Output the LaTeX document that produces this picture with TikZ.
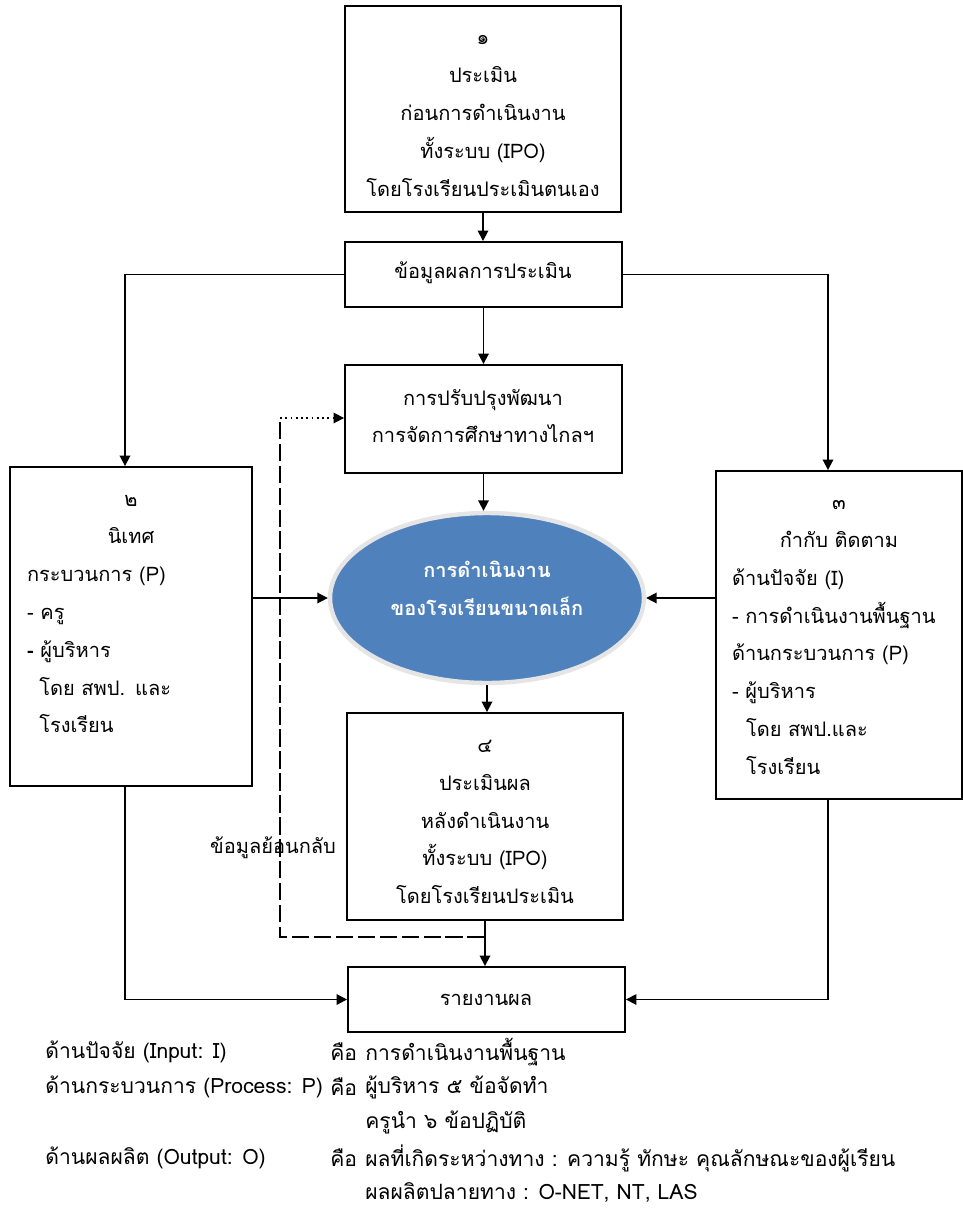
\documentclass[tikz,border=0pt]{standalone}
\usepackage{fontspec}
\setmainfont{Loma}[Script=Thai]
\usetikzlibrary{arrows.meta,shapes.geometric,calc}
\definecolor{ellblue}{RGB}{79,129,189}
\begin{document}
\begin{tikzpicture}[x=0.02cm,y=-0.02cm,
  box/.style={draw,line width=1.1pt,inner sep=0pt},
  txt/.style={font=\fontsize{11.4pt}{21.5pt}\selectfont,align=center,inner sep=0pt},
  ltxt/.style={font=\fontsize{11.4pt}{21.5pt}\selectfont,align=left,inner sep=0pt},
  btxt/.style={font=\fontsize{12pt}{14pt}\selectfont,inner sep=0pt,anchor=west},
  conn/.style={line width=1pt,-{Triangle[length=6pt,width=6pt]}},
  ln/.style={line width=1pt}]
\useasboundingbox (0,0) rectangle (963,1218);

% boxes
\node[box,minimum width=5.52cm,minimum height=4.12cm] (b1) at (483,109) {};
\node[box,minimum width=5.54cm,minimum height=1.3cm] (d) at (483.5,274.5) {};
\node[box,minimum width=5.54cm,minimum height=2.16cm] (p) at (483.5,419) {};
\node[ellipse,draw=gray!20,line width=2.5pt,fill=ellblue,minimum width=6.28cm,minimum height=3.4cm,inner sep=0pt] (e) at (487,598) {};
\node[box,minimum width=4.84cm,minimum height=6.38cm] (b2) at (131,626.5) {};
\node[box,minimum width=4.92cm,minimum height=6.56cm] (b3) at (839,635) {};
\node[box,minimum width=5.52cm,minimum height=4.14cm] (b4) at (485,816.5) {};
\node[box,minimum width=5.54cm,minimum height=1.3cm] (r) at (486.5,999.5) {};

% texts
\node[txt] (t1) at (483,116) {๑\\ประเมิน\\ก่อนการดำเนินงาน\\ทั้งระบบ (IPO)\\โดยโรงเรียนประเมินตนเอง};
\node[txt] (td) at (483,273) {ข้อมูลผลการประเมิน};
\node[txt] (tp) at (483,416) {การปรับปรุงพัฒนา\\การจัดการศึกษาทางไกลฯ};
\node[txt,text=white,font=\fontsize{11.4pt}{21.5pt}\selectfont\bfseries] (te) at (487,588.5) {การดำเนินงาน\\ของโรงเรียนขนาดเล็ก};
\node[ltxt,text width=4.16cm] (t2) at (131,614) {\makebox[\linewidth]{๒}\\\makebox[\linewidth]{นิเทศ}\\กระบวนการ (P)\\- ครู\\\textbf{-} ผู้บริหาร\\\hspace*{7pt}โดย สพป. และ\\\hspace*{7pt}โรงเรียน};
\node[ltxt,text width=4.28cm] (t3) at (839,637.5) {\makebox[\linewidth]{๓}\\\makebox[\linewidth]{กำกับ ติดตาม}\\ด้านปัจจัย (I)\\- การดำเนินงานพื้นฐาน\\ด้านกระบวนการ (P)\\- ผู้บริหาร\\\hspace*{8pt}โดย สพป.และ\\\hspace*{8pt}โรงเรียน};
\node[txt] (t4) at (485,822) {๔\\ประเมินผล\\หลังดำเนินงาน\\ทั้งระบบ (IPO)\\โดยโรงเรียนประเมิน};
\node[txt] (tr) at (486,1000) {รายงานผล};

% connectors
\draw[conn] (b1.south) -- (b1.south |- d.north);
\draw[conn] (d.south) -- (d.south |- p.north);
\draw[conn] (p.south) -- (p.south |- e.north);
\draw[conn] (d.west) -| ($(b2.north)+(-6,0)$);
\draw[conn] (d.east) -| ($(b3.north)+(-11,0)$);
\draw[conn] (b2.east |- e.west) -- (e.west);
\draw[conn] (b3.west |- e.east) -- (e.east);
\draw[conn] (e.south) -- (e.south |- b4.north);
\draw[conn] (b4.south) -- (b4.south |- r.north);
\draw[conn] ($(b2.south)+(-6,0)$) |- (r.west);
\draw[conn] ($(b3.south)+(-11,0)$) |- (r.east);

% feedback
\coordinate (fa) at (485,937);
\coordinate (fb) at (280,937);
\coordinate (fc) at (280,418);
\draw[ln,dash pattern=on 10pt off 2.5pt] (fa) -- (fb) -- (fc);
\draw[line width=1pt,dotted,-{Triangle[length=6pt,width=6pt]}] (fc) -- (fc -| p.west);
\node[txt] (fl) at (273,848) {ข้อมูลย้อนกลับ};

% legend
\node[btxt] (l1a) at (45,1052) {ด้านปัจจัย (Input: I)};
\node[btxt] (l1b) at (330,1052) {คือ};
\node[btxt] (l1c) at (365,1052) {การดำเนินงานพื้นฐาน};
\node[btxt] (l2a) at (45,1087) {ด้านกระบวนการ (Process: P)};
\node[btxt] (l2b) at (330,1087) {คือ};
\node[btxt] (l2c) at (365,1087) {ผู้บริหาร ๕ ข้อจัดทำ};
\node[btxt] (l3c) at (365,1122) {ครูนำ ๖ ข้อปฏิบัติ};
\node[btxt] (l4a) at (45,1158) {ด้านผลผลิต (Output: O)};
\node[btxt] (l4b) at (330,1158) {คือ};
\node[btxt] (l4c) at (365,1158) {ผลที่เกิดระหว่างทาง : ความรู้ ทักษะ คุณลักษณะของผู้เรียน};
\node[btxt] (l5c) at (365,1193) {ผลผลิตปลายทาง : O-NET, NT, LAS};
\end{tikzpicture}
\end{document}
